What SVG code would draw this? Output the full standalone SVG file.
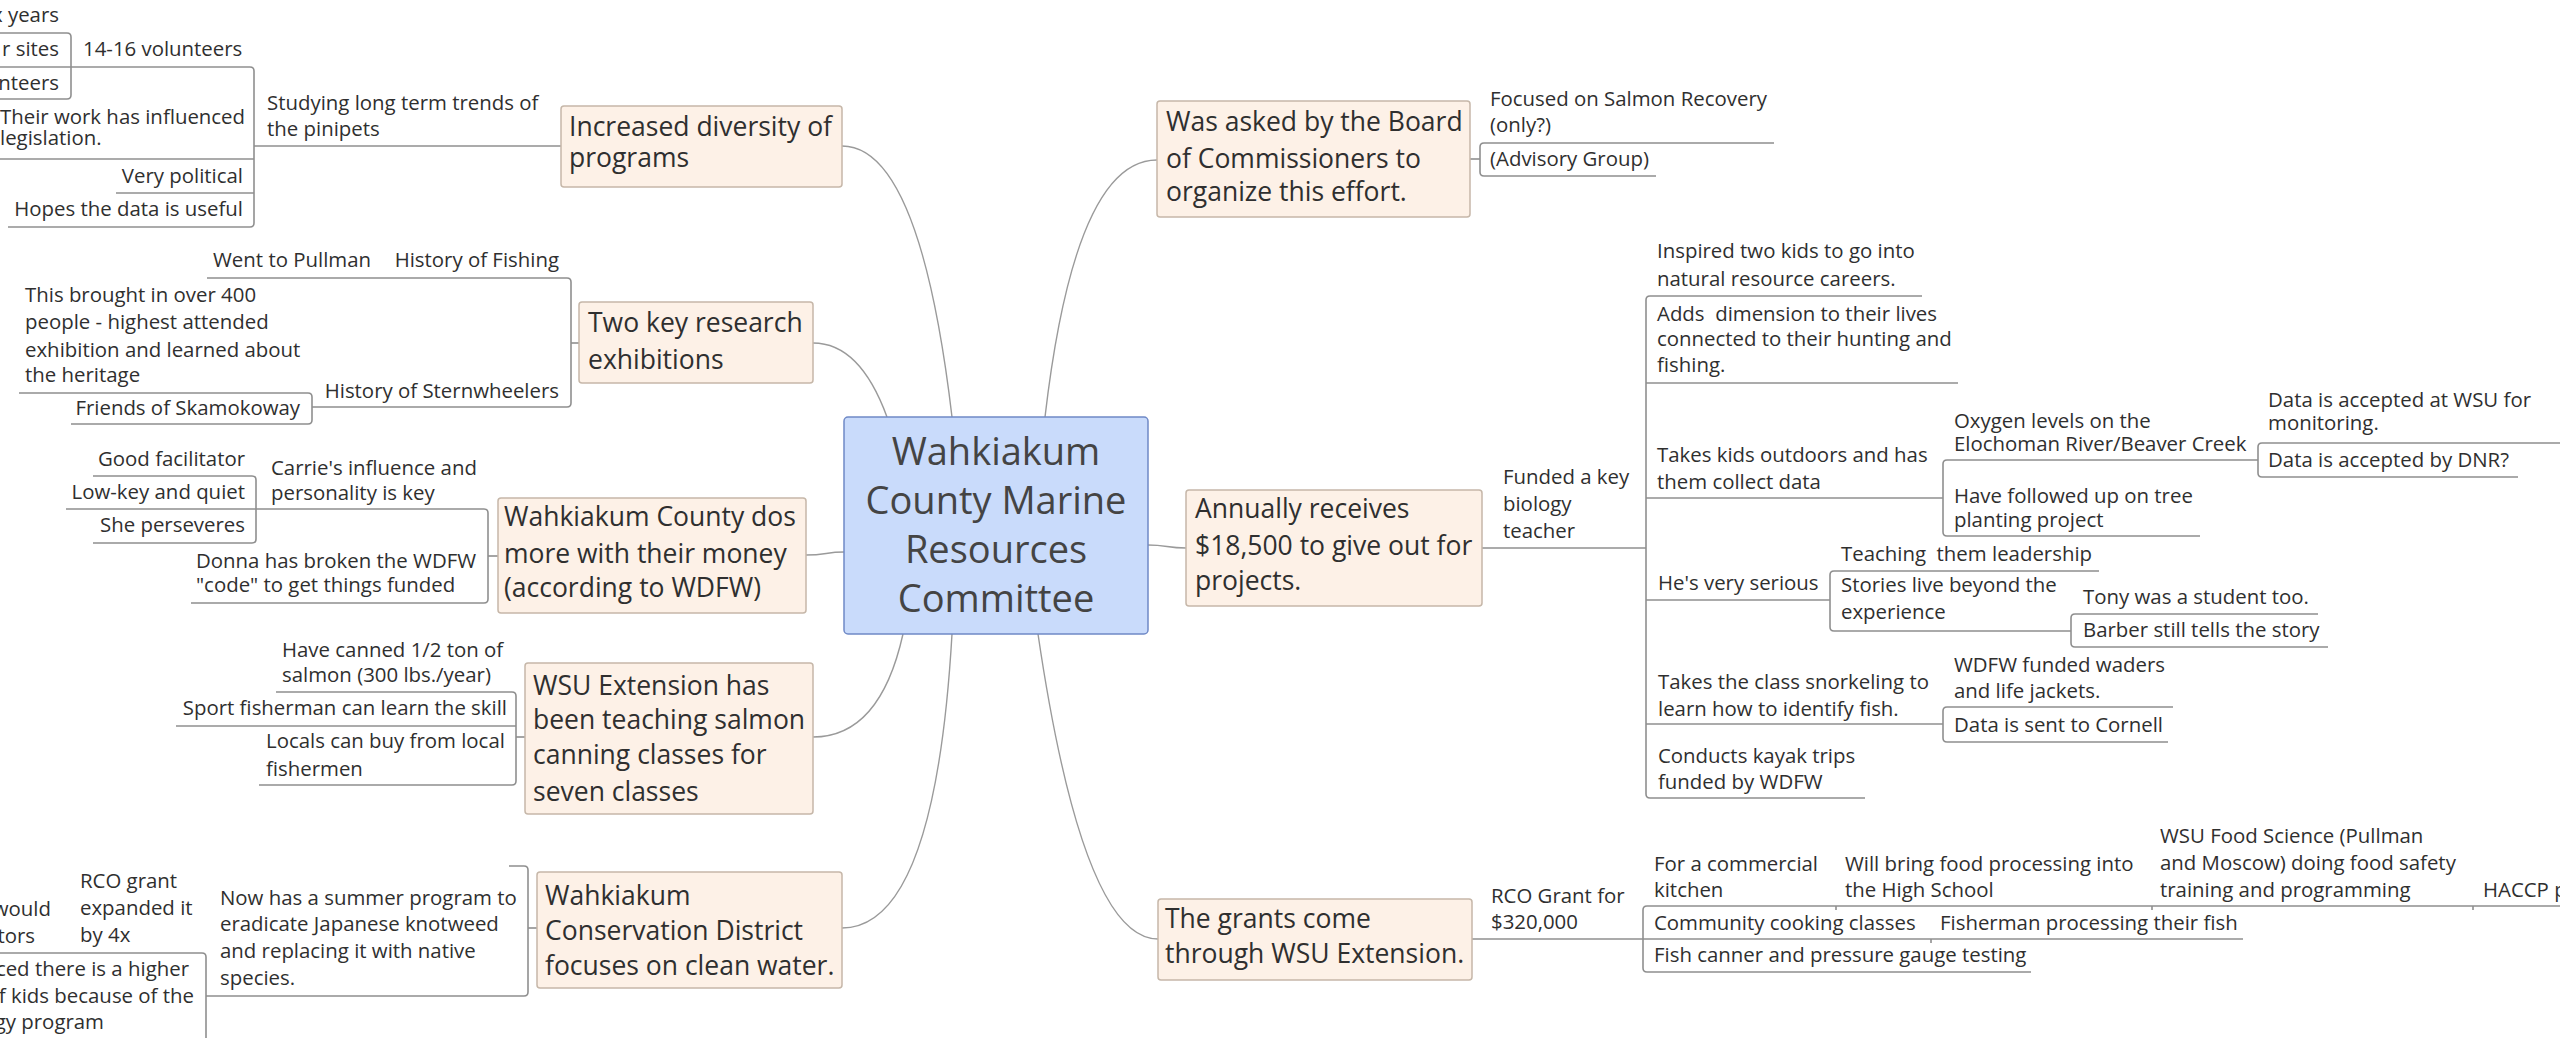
<svg xmlns="http://www.w3.org/2000/svg" width="2560" height="1038" viewBox="0 0 2560 1038">
<style>
.ln{fill:none;stroke:#8f8f8f;stroke-width:1.6}
.cv{fill:none;stroke:#9a9a9a;stroke-width:1.4}
.box{fill:#fdf1e7;stroke:#c6b7a9;stroke-width:1.5}
.ctr{fill:#c9dbfb;stroke:#6f89c6;stroke-width:1.5}
text{font-family:"Open Sans","Noto Sans","Liberation Sans",sans-serif;fill:#2f2f2f}
.t{font-size:20.4px}
.m{font-size:26.5px}
.c{font-size:38px;text-anchor:middle;fill:#444}
.e{text-anchor:end}
</style>
<rect width="2560" height="1038" fill="#ffffff"/>
<g id="connectors">
<path class="cv" d="M842,146 Q920,146 952,417"/>
<path class="cv" d="M813,343 Q860,343 887,417"/>
<path class="cv" d="M806,555 C826,555 826,552 844,552"/>
<path class="cv" d="M813,737 Q880,737 903,634"/>
<path class="cv" d="M842,928 Q935,928 952,634"/>
<path class="cv" d="M1157,160 Q1075,160 1045,417"/>
<path class="cv" d="M1148,545 C1167,545 1167,548 1186,548"/>
<path class="cv" d="M1158,939 Q1083,939 1038,634"/>
<path class="ln" d="M254,146 H561"/>
<path class="ln" d="M250,67 Q254,67 254,71 V223 Q254,227 250,227"/>
<path class="ln" d="M0,67 H250"/>
<path class="ln" d="M0,159 H254"/>
<path class="ln" d="M116,193 H254"/>
<path class="ln" d="M8,227 H250"/>
<path class="ln" d="M0,33 H67 Q71,33 71,37 V95 Q71,99 67,99 H0"/>
<path class="ln" d="M571,343 H579"/>
<path class="ln" d="M207,278 H567 Q571,278 571,282 V403 Q571,407 567,407 H312"/>
<path class="ln" d="M19,393 H308 Q312,393 312,397 V420 Q312,424 308,424 H71"/>
<path class="ln" d="M488,556 H498"/>
<path class="ln" d="M66,509 H484 Q488,509 488,513 V599 Q488,603 484,603 H191"/>
<path class="ln" d="M93,476 H252 Q256,476 256,480 V539 Q256,543 252,543 H93"/>
<path class="ln" d="M516,737 H525"/>
<path class="ln" d="M276,692 H512 Q516,692 516,696 V781 Q516,785 512,785 H259"/>
<path class="ln" d="M176,726 H516"/>
<path class="ln" d="M528,928 H537"/>
<path class="ln" d="M509,866 H524 Q528,866 528,870 V992 Q528,996 524,996 H206"/>
<path class="ln" d="M0,953 H202 Q206,953 206,957 V1040"/>
<path class="ln" d="M1470,159 H1480"/>
<path class="ln" d="M1774,143 H1484 Q1480,143 1480,147 V172 Q1480,176 1484,176 H1656"/>
<path class="ln" d="M1482,548 H1646"/>
<path class="ln" d="M1922,296 H1650 Q1646,296 1646,300 V794 Q1646,798 1650,798 H1865"/>
<path class="ln" d="M1646,383 H1958"/>
<path class="ln" d="M1646,498 H1943"/>
<path class="ln" d="M1646,600 H1830"/>
<path class="ln" d="M1646,724 H1943"/>
<path class="ln" d="M2258,460 H1947 Q1943,460 1943,464 V532 Q1943,536 1947,536 H2200"/>
<path class="ln" d="M2560,443 H2262 Q2258,443 2258,447 V473 Q2258,477 2262,477 H2518"/>
<path class="ln" d="M2099,571 H1834 Q1830,571 1830,575 V627 Q1830,631 1834,631 H2071"/>
<path class="ln" d="M2318,614 H2075 Q2071,614 2071,618 V643 Q2071,647 2075,647 H2328"/>
<path class="ln" d="M2173,707 H1947 Q1943,707 1943,711 V738 Q1943,742 1947,742 H2168"/>
<path class="ln" d="M1472,939 H1643"/>
<path class="ln" d="M2560,906 H1647 Q1643,906 1643,910 V968 Q1643,972 1647,972 H2031"/>
<path class="ln" d="M1643,939 H2243"/>
<path class="ln" d="M1836,906 v4 M2152,906 v4 M2473,906 v4 M1931,939 v4"/>
</g>
<g id="n-central"><rect class="ctr" x="844" y="417" width="304" height="217" rx="4"/>
<text class="c"><tspan x="996" y="465">Wahkiakum</tspan><tspan x="996" y="514">County Marine</tspan><tspan x="996" y="563">Resources</tspan><tspan x="996" y="612">Committee</tspan></text></g>
<g id="n-increased"><rect class="box" x="561" y="106" width="281" height="81" rx="3"/>
<text class="m"><tspan x="569" y="136">Increased diversity of</tspan><tspan x="569" y="167">programs</tspan></text></g>
<g id="n-studying"><text class="t"><tspan x="267" y="110">Studying long term trends of</tspan><tspan x="267" y="136">the pinipets</tspan></text></g>
<g id="n-volunteers"><text class="t" x="83" y="56">14-16 volunteers</text></g>
<g id="n-years"><text class="t e" x="59" y="22">x years</text></g>
<g id="n-sites"><text class="t e" x="59" y="56">r sites</text></g>
<g id="n-nteers"><text class="t e" x="59" y="90">nteers</text></g>
<g id="n-theirwork"><text class="t"><tspan x="0" y="124">Their work has influenced</tspan><tspan x="0" y="145">legislation.</tspan></text></g>
<g id="n-political"><text class="t e" x="243" y="183">Very political</text></g>
<g id="n-hopes"><text class="t e" x="243" y="216">Hopes the data is useful</text></g>
<g id="n-twokey"><rect class="box" x="579" y="302" width="234" height="81" rx="3"/>
<text class="m"><tspan x="588" y="332">Two key research</tspan><tspan x="588" y="369">exhibitions</tspan></text></g>
<g id="n-histfishing"><text class="t e" x="559" y="267">History of Fishing</text></g>
<g id="n-pullman"><text class="t e" x="371" y="267">Went to Pullman</text></g>
<g id="n-brought"><text class="t"><tspan x="25" y="302">This brought in over 400</tspan><tspan x="25" y="329">people - highest attended</tspan><tspan x="25" y="357">exhibition and learned about</tspan><tspan x="25" y="382">the heritage</tspan></text></g>
<g id="n-histstern"><text class="t e" x="559" y="398">History of Sternwheelers</text></g>
<g id="n-friends"><text class="t e" x="300" y="415">Friends of Skamokoway</text></g>
<g id="n-wcdos"><rect class="box" x="498" y="498" width="308" height="115" rx="3"/>
<text class="m"><tspan x="504" y="526">Wahkiakum County dos</tspan><tspan x="504" y="563">more with their money</tspan><tspan x="504" y="597">(according to WDFW)</tspan></text></g>
<g id="n-carrie"><text class="t"><tspan x="271" y="475">Carrie's influence and</tspan><tspan x="271" y="500">personality is key</tspan></text></g>
<g id="n-facilitator"><text class="t e" x="245" y="466">Good facilitator</text></g>
<g id="n-lowkey"><text class="t e" x="245" y="499">Low-key and quiet</text></g>
<g id="n-perseveres"><text class="t e" x="245" y="532">She perseveres</text></g>
<g id="n-donna"><text class="t"><tspan x="196" y="568">Donna has broken the WDFW</tspan><tspan x="196" y="592">"code" to get things funded</tspan></text></g>
<g id="n-wsuext"><rect class="box" x="525" y="663" width="288" height="151" rx="3"/>
<text class="m"><tspan x="533" y="695">WSU Extension has</tspan><tspan x="533" y="729">been teaching salmon</tspan><tspan x="533" y="764">canning classes for</tspan><tspan x="533" y="801">seven classes</tspan></text></g>
<g id="n-canned"><text class="t"><tspan x="282" y="657">Have canned 1/2 ton of</tspan><tspan x="282" y="682">salmon (300 lbs./year)</tspan></text></g>
<g id="n-sport"><text class="t e" x="507" y="715">Sport fisherman can learn the skill</text></g>
<g id="n-locals"><text class="t"><tspan x="266" y="748">Locals can buy from local</tspan><tspan x="266" y="776">fishermen</tspan></text></g>
<g id="n-wcd"><rect class="box" x="537" y="872" width="305" height="116" rx="3"/>
<text class="m"><tspan x="545" y="905">Wahkiakum</tspan><tspan x="545" y="940">Conservation District</tspan><tspan x="545" y="975">focuses on clean water.</tspan></text></g>
<g id="n-nowhas"><text class="t"><tspan x="220" y="905">Now has a summer program to</tspan><tspan x="220" y="931">eradicate Japanese knotweed</tspan><tspan x="220" y="958">and replacing it with native</tspan><tspan x="220" y="985">species.</tspan></text></g>
<g id="n-rcogrant"><text class="t"><tspan x="80" y="888">RCO grant</tspan><tspan x="80" y="915">expanded it</tspan><tspan x="80" y="942">by 4x</tspan></text></g>
<g id="n-would"><text class="t e"><tspan x="51" y="916">would</tspan><tspan x="35" y="943">tors</tspan></text></g>
<g id="n-higher"><text class="t e"><tspan x="189" y="976">ced there is a higher</tspan><tspan x="194" y="1003">f kids because of the</tspan><tspan x="104" y="1029">gy program</tspan></text></g>
<g id="n-wasasked"><rect class="box" x="1157" y="101" width="313" height="116" rx="3"/>
<text class="m"><tspan x="1166" y="131">Was asked by the Board</tspan><tspan x="1166" y="168">of Commissioners to</tspan><tspan x="1166" y="201">organize this effort.</tspan></text></g>
<g id="n-focused"><text class="t"><tspan x="1490" y="106">Focused on Salmon Recovery</tspan><tspan x="1490" y="132">(only?)</tspan></text></g>
<g id="n-advisory"><text class="t" x="1490" y="166">(Advisory Group)</text></g>
<g id="n-annually"><rect class="box" x="1186" y="490" width="296" height="116" rx="3"/>
<text class="m"><tspan x="1195" y="518">Annually receives</tspan><tspan x="1195" y="555">$18,500 to give out for</tspan><tspan x="1195" y="590">projects.</tspan></text></g>
<g id="n-funded"><text class="t"><tspan x="1503" y="484">Funded a key</tspan><tspan x="1503" y="511">biology</tspan><tspan x="1503" y="538">teacher</tspan></text></g>
<g id="n-inspired"><text class="t"><tspan x="1657" y="258">Inspired two kids to go into</tspan><tspan x="1657" y="286">natural resource careers.</tspan></text></g>
<g id="n-adds"><text class="t"><tspan x="1657" y="321">Adds&#160; dimension to their lives</tspan><tspan x="1657" y="346">connected to their hunting and</tspan><tspan x="1657" y="372">fishing.</tspan></text></g>
<g id="n-takes"><text class="t"><tspan x="1657" y="462">Takes kids outdoors and has</tspan><tspan x="1657" y="489">them collect data</tspan></text></g>
<g id="n-oxygen"><text class="t"><tspan x="1954" y="428">Oxygen levels on the</tspan><tspan x="1954" y="451">Elochoman River/Beaver Creek</tspan></text></g>
<g id="n-datawsu"><text class="t"><tspan x="2268" y="407">Data is accepted at WSU for</tspan><tspan x="2268" y="430">monitoring.</tspan></text></g>
<g id="n-datadnr"><text class="t" x="2268" y="467">Data is accepted by DNR?</text></g>
<g id="n-followed"><text class="t"><tspan x="1954" y="503">Have followed up on tree</tspan><tspan x="1954" y="527">planting project</tspan></text></g>
<g id="n-serious"><text class="t" x="1658" y="590">He's very serious</text></g>
<g id="n-teaching"><text class="t" x="1841" y="561">Teaching&#160; them leadership</text></g>
<g id="n-stories"><text class="t"><tspan x="1841" y="592">Stories live beyond the</tspan><tspan x="1841" y="619">experience</tspan></text></g>
<g id="n-tony"><text class="t" x="2083" y="604">Tony was a student too.</text></g>
<g id="n-barber"><text class="t" x="2083" y="637">Barber still tells the story</text></g>
<g id="n-snorkel"><text class="t"><tspan x="1658" y="689">Takes the class snorkeling to</tspan><tspan x="1658" y="716">learn how to identify fish.</tspan></text></g>
<g id="n-waders"><text class="t"><tspan x="1954" y="672">WDFW funded waders</tspan><tspan x="1954" y="698">and life jackets.</tspan></text></g>
<g id="n-cornell"><text class="t" x="1954" y="732">Data is sent to Cornell</text></g>
<g id="n-kayak"><text class="t"><tspan x="1658" y="763">Conducts kayak trips</tspan><tspan x="1658" y="789">funded by WDFW</tspan></text></g>
<g id="n-grants"><rect class="box" x="1158" y="899" width="314" height="81" rx="3"/>
<text class="m"><tspan x="1165" y="928">The grants come</tspan><tspan x="1165" y="963">through WSU Extension.</tspan></text></g>
<g id="n-rco"><text class="t"><tspan x="1491" y="903">RCO Grant for</tspan><tspan x="1491" y="929">$320,000</tspan></text></g>
<g id="n-kitchen"><text class="t"><tspan x="1654" y="871">For a commercial</tspan><tspan x="1654" y="897">kitchen</tspan></text></g>
<g id="n-willbring"><text class="t"><tspan x="1845" y="871">Will bring food processing into</tspan><tspan x="1845" y="897">the High School</tspan></text></g>
<g id="n-wsufood"><text class="t"><tspan x="2160" y="843">WSU Food Science (Pullman</tspan><tspan x="2160" y="870">and Moscow) doing food safety</tspan><tspan x="2160" y="897">training and programming</tspan></text></g>
<g id="n-haccp"><text class="t" x="2483" y="897">HACCP p</text></g>
<g id="n-cooking"><text class="t" x="1654" y="930">Community cooking classes</text></g>
<g id="n-fisherman"><text class="t" x="1940" y="930">Fisherman processing their fish</text></g>
<g id="n-canner"><text class="t" x="1654" y="962">Fish canner and pressure gauge testing</text></g>
</svg>
